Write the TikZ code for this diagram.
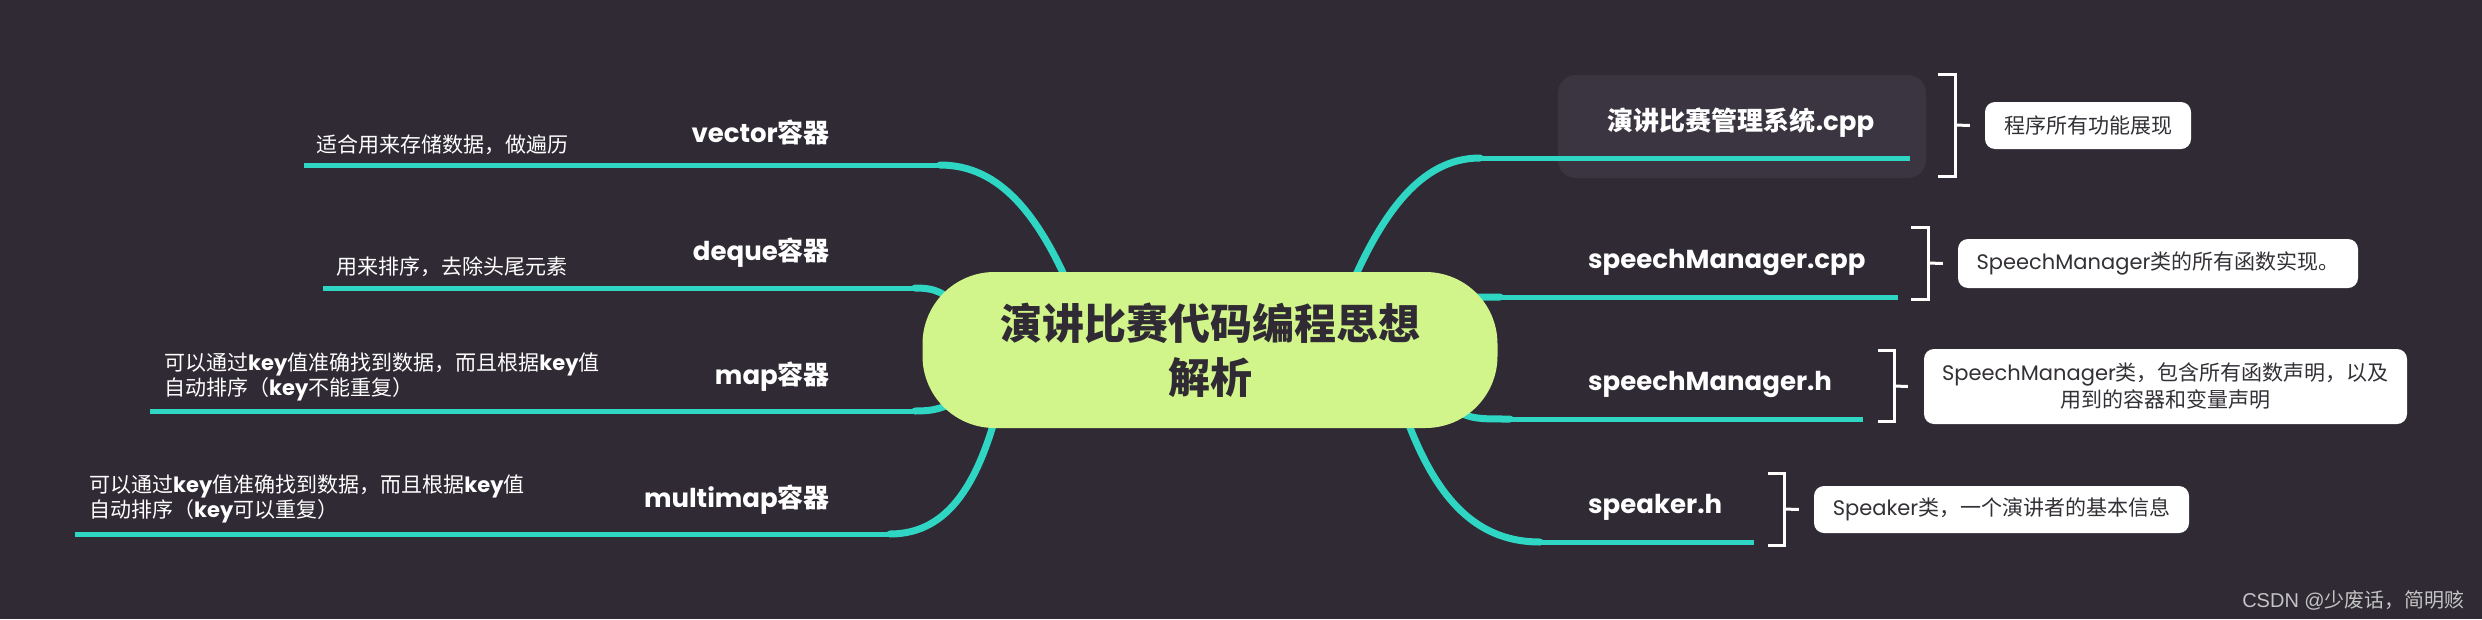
\documentclass[tikz,border=0pt]{standalone}
\usepackage{fontspec}
\setmainfont{Poppins}
\newfontfamily\zh{Noto Sans CJK SC}
\newfontfamily\wmfont{Liberation Sans}
\usetikzlibrary{calc,positioning}
\definecolor{bgdark}{HTML}{2F2A33}
\definecolor{branchteal}{HTML}{2ED6C3}
\definecolor{rootgreen}{HTML}{D1F58A}
\definecolor{selbox}{HTML}{3A3540}
\definecolor{notetext}{HTML}{333036}
\definecolor{wmgrey}{HTML}{C4C4C4}
\tikzstyle{branch} = [line width=7pt, branchteal, line cap=round]
\tikzstyle{underline} = [line width=5pt, branchteal]
\tikzstyle{Root} = [rectangle, rounded corners=72pt, fill=rootgreen, text=bgdark,
    minimum width=575pt, minimum height=156pt, inner sep=0pt, align=center,
    font=\zh\bfseries\fontsize{42}{54}\selectfont]
\tikzstyle{Topic} = [text=white, inner sep=0pt, font=\bfseries\fontsize{26}{30}\selectfont]
\tikzstyle{LeftNote} = [text=white, inner sep=0pt, align=left, font=\fontsize{21}{25}\selectfont]
\tikzstyle{NoteBox} = [rectangle, fill=white, rounded corners=10pt, text=notetext,
    inner sep=0pt, align=center, font=\fontsize{21}{27}\selectfont]
\tikzstyle{bracket} = [white, line width=3pt]

\begin{document}
\begin{tikzpicture}[x=1pt, y=-1pt]
        \fill [bgdark] (0,0) rectangle (2482,619);
        \useasboundingbox (0,0) rectangle (2482,619);
        % branches behind the root
        \draw [branch] (1075,300) .. controls (1040,215) and (1000,165) .. (940,165); %vector
        \draw [branch] (960,310) .. controls (945,292) and (935,288) .. (915,288); %deque
        \draw [branch] (960,398) .. controls (945,408) and (935,411) .. (915,411); %map
        \draw [branch] (1000,400) .. controls (980,480) and (950,534) .. (890,534); %multimap
        \draw [branch] (1345,300) .. controls (1380,215) and (1420,158) .. (1480,158); %main cpp
        \draw [branch] (1450,300) .. controls (1470,297) .. (1500,297); %speechManager.cpp
        \draw [branch] (1440,402) .. controls (1470,419) .. (1510,419); %speechManager.h
        \draw [branch] (1400,400) .. controls (1430,490) and (1470,542) .. (1540,542); %speaker.h
        % selected topic box
        \node [rectangle, fill=selbox, rounded corners=18pt, minimum width=368pt,
            minimum height=103pt, inner sep=0pt] (mainSel) at (1742,126.5) {};
        % underlines
        \draw [underline] (940,165) -- (304,165);
        \draw [underline] (915,288) -- (323,288);
        \draw [underline] (915,411) -- (150,411);
        \draw [underline] (890,534) -- (75,534);
        \draw [underline] (1480,158) -- (1910,158);
        \draw [underline] (1500,297) -- (1898,297);
        \draw [underline] (1510,419) -- (1863,419);
        \draw [underline] (1540,542) -- (1754,542);
        % root
        \node [Root] (root) at (1210,350) {演讲比赛代码编程思想\\解析};
        % left topics
        \node [Topic, anchor=east] (vecTopic) at (830,132) {vector{\zh 容器}};
        \node [Topic, anchor=east] (dequeTopic) at (830,253) {deque{\zh 容器}};
        \node [Topic, anchor=east] (mapTopic) at (830,377) {map{\zh 容器}};
        \node [Topic, anchor=east] (mmapTopic) at (830,500) {multimap{\zh 容器}};
        \node [LeftNote, anchor=west] (vecNote) at (316,145) {\zh 适合用来存储数据，做遍历};
        \node [LeftNote, anchor=west] (dequeNote) at (336,267) {\zh 用来排序，去除头尾元素};
        \node [LeftNote, anchor=west] (mapNote) at (164,377) {
            {\zh 可以通过}\textbf{key}{\zh 值准确找到数据，而且根据}\textbf{key}{\zh 值}\\
            {\zh 自动排序（}\textbf{key}{\zh 不能重复）}
        };
        \node [LeftNote, anchor=west] (mmapNote) at (89,499) {
            {\zh 可以通过}\textbf{key}{\zh 值准确找到数据，而且根据}\textbf{key}{\zh 值}\\
            {\zh 自动排序（}\textbf{key}{\zh 可以重复）}
        };
        % right topics
        \node [Topic] (mainTopic) at (1741,123) {{\zh 演讲比赛管理系统}.cpp};
        \node [Topic, anchor=west] (cppTopic) at (1588,262) {speechManager.cpp};
        \node [Topic, anchor=west] (hTopic) at (1588,384) {speechManager.h};
        \node [Topic, anchor=west] (spkTopic) at (1588,507) {speaker.h};
        % notes
        \node [NoteBox, minimum width=206pt, minimum height=47pt] (mainNote) at (2088,125.5) {\zh 程序所有功能展现};
        \node [NoteBox, minimum width=400pt, minimum height=49pt] (cppNote) at (2158,263.5) {SpeechManager{\zh 类的所有函数实现。}};
        \node [NoteBox, minimum width=483pt, minimum height=75pt] (hNote) at (2165.5,386.5) {
            SpeechManager{\zh 类，包含所有函数声明，以及}\\{\zh 用到的容器和变量声明}
        };
        \node [NoteBox, minimum width=375pt, minimum height=47pt] (spkNote) at (2001.5,509.5) {Speaker{\zh 类，一个演讲者的基本信息}};
        % brackets
        \draw [bracket] (1938,74) -- (1955,74) -- (1955,176) -- (1938,176);
        \draw [bracket] (1955,125) -- ([xshift=-15pt]mainNote.west);
        \draw [bracket] (1911,227) -- (1928,227) -- (1928,299) -- (1911,299);
        \draw [bracket] (1928,263) -- ([xshift=-15pt]cppNote.west);
        \draw [bracket] (1878,350) -- (1894,350) -- (1894,421) -- (1878,421);
        \draw [bracket] (1894,386) -- ([xshift=-16pt]hNote.west);
        \draw [bracket] (1768,473) -- (1784,473) -- (1784,545) -- (1768,545);
        \draw [bracket] (1784,509) -- ([xshift=-15pt]spkNote.west);
        % watermark
        \node [anchor=east, inner sep=0pt, text=wmgrey, font=\wmfont\fontsize{20}{24}\selectfont]
            (mark) at (2465,600) {CSDN @{\zh 少废话，简明赅}};
    \end{tikzpicture}
\end{document}
